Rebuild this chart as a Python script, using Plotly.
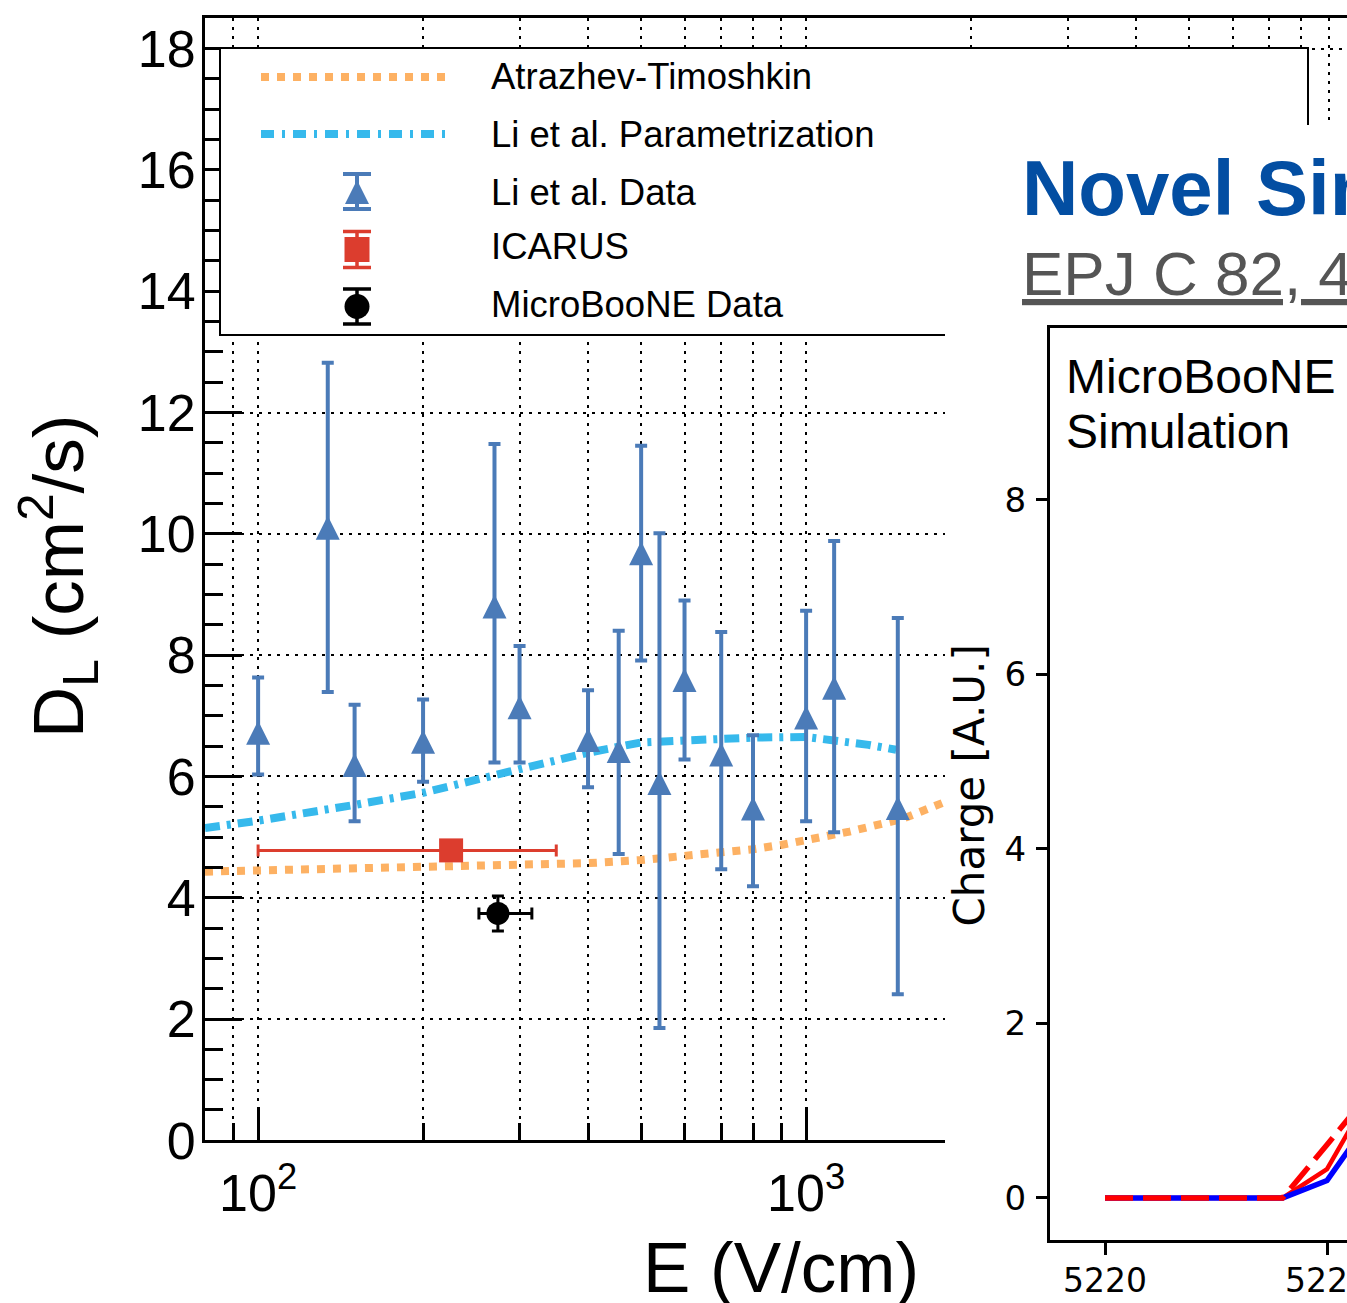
import math
import plotly.graph_objects as go

W, H = 1347, 1303

# ---------------- data: main chart (D_L vs E) ----------------
li_E = [100, 134, 150, 200, 270, 300, 400, 455, 500, 540, 600, 700, 800, 1000, 1125, 1470]
li_DL = [6.72, 10.10, 6.19, 6.57, 8.80, 7.14, 6.60, 6.42, 9.68, 5.89, 7.59, 6.36, 5.47, 6.97, 7.46, 5.48]
li_err_up = [0.91, 2.72, 0.99, 0.70, 2.68, 1.01, 0.82, 1.98, 1.77, 4.12, 1.31, 2.02, 1.21, 1.76, 2.42, 3.13]
li_err_down = [0.69, 2.71, 0.93, 0.66, 2.57, 0.91, 0.78, 1.70, 1.77, 4.04, 1.31, 1.89, 1.28, 1.71, 2.38, 3.07]

icarus_E = [225]
icarus_DL = [4.78]
icarus_E_err = [125]

uboone_E = [273.9]
uboone_DL = [3.74]
uboone_E_err_up = [42]
uboone_E_err_down = [21]
uboone_DL_err = [0.29]

at_E = [80, 100, 150, 200, 300, 400, 500, 600, 700, 800, 900, 1000, 1200, 1500, 1800, 2000]
at_DL = [4.43, 4.45, 4.48, 4.50, 4.54, 4.57, 4.62, 4.68, 4.74, 4.80, 4.87, 4.94, 5.09, 5.30, 5.58, 5.75]

lipar_E = [80, 100, 150, 200, 300, 400, 500, 600, 700, 800, 1000, 1125, 1300, 1460]
lipar_DL = [5.15, 5.27, 5.53, 5.73, 6.12, 6.39, 6.56, 6.60, 6.62, 6.64, 6.65, 6.60, 6.52, 6.44]

x_major = [100, 1000]
x_major_text = ["10<sup>2</sup>", "10<sup>3</sup>"]
x_minor = [90, 200, 300, 400, 500, 600, 700, 800, 900,
           2000, 3000, 4000, 5000, 6000, 7000, 8000, 9000]
y_ticks = [0, 2, 4, 6, 8, 10, 12, 14, 16, 18]

legend_labels = ["Atrazhev-Timoshkin", "Li et al. Parametrization",
                 "Li et al. Data", "ICARUS", "MicroBooNE Data"]

# ---------------- data: slide chart (MicroBooNE simulation) ----------------
sim_tick = [5220, 5221, 5222, 5223, 5224, 5225, 5226]
sim_blue = [0, 0, 0, 0, 0, 0.20, 0.92]
sim_red = [0, 0, 0, 0, 0, 0.33, 1.22]
sim_red_dash = [0, 0, 0, 0, 0, 0.61, 1.23]
sim_xticks = [5220, 5225]
sim_yticks = [0, 2, 4, 6, 8]

# ---------------- styling ----------------
C_ORANGE = "#fdb163"
C_LBLUE = "#36b9ec"
C_BLUE = "#4b7bb8"
C_RED = "#dc3d2e"
FONT = "Liberation Sans, Arial, sans-serif"
FONT_MPL = "DejaVu Sans, sans-serif"


def px(x):
    return x / W


def py(y):
    return 1 - y / H


fig = go.Figure()

# ---- main chart traces ----
fig.add_trace(go.Scatter(x=at_E, y=at_DL, mode="lines",
                         line=dict(color=C_ORANGE, width=8, dash="dot"),
                         xaxis="x", yaxis="y", showlegend=False))
fig.add_trace(go.Scatter(x=lipar_E, y=lipar_DL, mode="lines",
                         line=dict(color=C_LBLUE, width=8, dash="15px,7px,4px,7px"),
                         xaxis="x", yaxis="y", showlegend=False))
fig.add_trace(go.Scatter(x=li_E, y=li_DL, mode="markers",
                         marker=dict(symbol="arrow-down", angle=180, standoff=12, size=24,
                                     color=C_BLUE, line=dict(width=0)),
                         error_y=dict(type="data", array=li_err_up, arrayminus=li_err_down,
                                      color=C_BLUE, thickness=4, width=6),
                         xaxis="x", yaxis="y", showlegend=False))
fig.add_trace(go.Scatter(x=icarus_E, y=icarus_DL, mode="markers",
                         marker=dict(symbol="square", size=24, color=C_RED, line=dict(width=0)),
                         error_x=dict(type="data", array=icarus_E_err, color=C_RED,
                                      thickness=3, width=6),
                         xaxis="x", yaxis="y", showlegend=False))
fig.add_trace(go.Scatter(x=uboone_E, y=uboone_DL, mode="markers",
                         marker=dict(symbol="circle", size=23, color="black", line=dict(width=0)),
                         error_x=dict(type="data", array=uboone_E_err_up,
                                      arrayminus=uboone_E_err_down, color="black",
                                      thickness=3, width=6),
                         error_y=dict(type="data", array=uboone_DL_err, color="black",
                                      thickness=3, width=6),
                         xaxis="x", yaxis="y", showlegend=False))

# ---- pixel-space layer: legend box, slide overlay, legend samples ----
fig.add_trace(go.Scatter(x=[220, 1308, 1308, 220, 220], y=[48, 48, 335, 335, 48],
                         mode="lines", fill="toself", fillcolor="white",
                         line=dict(color="black", width=2),
                         xaxis="x2", yaxis="y2", showlegend=False, hoverinfo="skip"))
fig.add_trace(go.Scatter(x=[945, 1360, 1360, 945, 945], y=[125, 125, 1320, 1320, 125],
                         mode="lines", fill="toself", fillcolor="white",
                         line=dict(color="white", width=0),
                         xaxis="x2", yaxis="y2", showlegend=False, hoverinfo="skip"))
fig.add_trace(go.Scatter(x=[261, 446], y=[77, 77], mode="lines",
                         line=dict(color=C_ORANGE, width=8, dash="dot"),
                         xaxis="x2", yaxis="y2", showlegend=False))
fig.add_trace(go.Scatter(x=[261, 446], y=[134, 134], mode="lines",
                         line=dict(color=C_LBLUE, width=8, dash="13px,8px,3px,8px"),
                         xaxis="x2", yaxis="y2", showlegend=False))
fig.add_trace(go.Scatter(x=[357], y=[192], mode="markers",
                         marker=dict(symbol="arrow-down", angle=180, standoff=12, size=24,
                                     color=C_BLUE, line=dict(width=0)),
                         error_y=dict(type="data", array=[17], arrayminus=[18],
                                      color=C_BLUE, thickness=4, width=14),
                         xaxis="x2", yaxis="y2", showlegend=False))
fig.add_trace(go.Scatter(x=[357], y=[249.5], mode="markers",
                         marker=dict(symbol="square", size=25, color=C_RED, line=dict(width=0)),
                         error_y=dict(type="data", array=[18], color=C_RED,
                                      thickness=3.5, width=14),
                         xaxis="x2", yaxis="y2", showlegend=False))
fig.add_trace(go.Scatter(x=[357], y=[306.5], mode="markers",
                         marker=dict(symbol="circle", size=25, color="black", line=dict(width=0)),
                         error_y=dict(type="data", array=[17.5], color="black",
                                      thickness=3.5, width=14),
                         xaxis="x2", yaxis="y2", showlegend=False))

# ---- slide chart traces ----
fig.add_trace(go.Scatter(x=sim_tick, y=sim_red, mode="lines",
                         line=dict(color="#ff0000", width=4.5),
                         xaxis="x3", yaxis="y3", showlegend=False))
fig.add_trace(go.Scatter(x=sim_tick, y=sim_blue, mode="lines",
                         line=dict(color="#0000ff", width=5.5),
                         xaxis="x3", yaxis="y3", showlegend=False))
fig.add_trace(go.Scatter(x=sim_tick, y=sim_red_dash, mode="lines",
                         line=dict(color="#ff0000", width=5.5, dash="28px,10px"),
                         xaxis="x3", yaxis="y3", showlegend=False))

# ---- axes ----
x_left_log = math.log10(80)
x_right_log = x_left_log + (W - 205) / 548.0
dotted = dict(showgrid=True, gridcolor="black", gridwidth=2.2, griddash="3px,6px")

xaxis = dict(
    domain=[205 / W, 1], type="log", range=[x_left_log, x_right_log], anchor="y",
    showline=True, linecolor="black", linewidth=3, mirror=True,
    ticks="inside", tickvals=x_major, ticktext=x_major_text, ticklen=33, tickwidth=2.5,
    tickcolor="black", tickfont=dict(family=FONT, size=52, color="black"),
    ticklabelstandoff=5, zeroline=False, automargin=False,
    minor=dict(tickvals=x_minor, ticks="inside", ticklen=17, tickwidth=2.5, tickcolor="black",
               showgrid=True, gridcolor="black", gridwidth=2.2, griddash="3px,6px"),
    **dotted,
)
yaxis = dict(
    domain=[py(1140.3), py(18.3)], range=[0, 18.5], anchor="x",
    showline=True, linecolor="black", linewidth=3, mirror=False,
    ticks="inside", tickvals=y_ticks, ticklen=37, tickwidth=3, tickcolor="black",
    tickfont=dict(family=FONT, size=52, color="black"), ticklabelstandoff=-4,
    zeroline=False, automargin=False,
    minor=dict(dtick=0.5, tick0=0, ticks="inside", ticklen=18, tickwidth=3,
               tickcolor="black", showgrid=False),
    **dotted,
)
xaxis2 = dict(domain=[0, 1], range=[0, W], anchor="y2", visible=False,
              showgrid=False, zeroline=False, automargin=False, fixedrange=True)
yaxis2 = dict(domain=[0, 1], range=[H, 0], anchor="x2", visible=False,
              showgrid=False, zeroline=False, automargin=False, fixedrange=True)
sx_px = 44.4
xaxis3 = dict(
    domain=[1050 / W, 1], range=[5220 - (1105 - 1050) / sx_px, 5220 + (W - 1105) / sx_px],
    anchor="y3", showline=True, linecolor="black", linewidth=3, mirror=True,
    ticks="outside", ticklen=12, tickwidth=2.5, tickcolor="black", tickvals=sim_xticks,
    tickfont=dict(family=FONT_MPL, size=33, color="black"), ticklabelstandoff=-3,
    ticklabeloverflow="allow", showgrid=False, zeroline=False, automargin=False,
)
yaxis3 = dict(
    domain=[py(1240), py(328)], range=[-0.482, 9.97], anchor="x3",
    showline=True, linecolor="black", linewidth=3, mirror=False,
    ticks="outside", ticklen=11, tickwidth=2.5, tickcolor="black", tickvals=sim_yticks,
    tickfont=dict(family=FONT_MPL, size=34, color="black"), ticklabelstandoff=3,
    showgrid=False, zeroline=False, automargin=False,
)

# ---- annotations ----
ann = []


def add_text(text, x, y, size, color="black", family=FONT, xanchor="left",
             yanchor="middle", angle=0):
    ann.append(dict(text=text, x=px(x), y=py(y), xref="paper", yref="paper",
                    xanchor=xanchor, yanchor=yanchor, showarrow=False, textangle=angle,
                    font=dict(family=family, size=size, color=color)))


legend_rows_y = [76.5, 135, 192.5, 246.5, 304.5]
for lab, yy in zip(legend_labels, legend_rows_y):
    add_text(lab, 489, yy, 36.5)

add_text("E (V/cm)", 921, 1267, 71, xanchor="right")
add_text("D<sub>L</sub> (cm<sup>2</sup>/s)", 58, 577, 71, xanchor="center", angle=-90)

add_text("<b>Novel Simulation</b>", 1020, 188, 78, color="#034ea2")
add_text("<u>EPJ C 82, 454 (2022)</u>", 1020, 273.5, 62, color="#555555")
add_text("MicroBooNE", 1064, 376.5, 48)
add_text("Simulation", 1064, 431.5, 48)
add_text("Charge [A.U.]", 969, 785.5, 42, family=FONT_MPL, xanchor="center", angle=-90)

fig.update_layout(
    template="none",
    width=W, height=H, autosize=False,
    margin=dict(l=0, r=0, t=0, b=0, pad=0),
    paper_bgcolor="white", plot_bgcolor="rgba(0,0,0,0)",
    showlegend=False,
    xaxis=xaxis, yaxis=yaxis, xaxis2=xaxis2, yaxis2=yaxis2,
    xaxis3=xaxis3, yaxis3=yaxis3,
    annotations=ann,
    font=dict(family=FONT, color="black"),
)

fig.write_html("out.html", config={"displayModeBar": False})
